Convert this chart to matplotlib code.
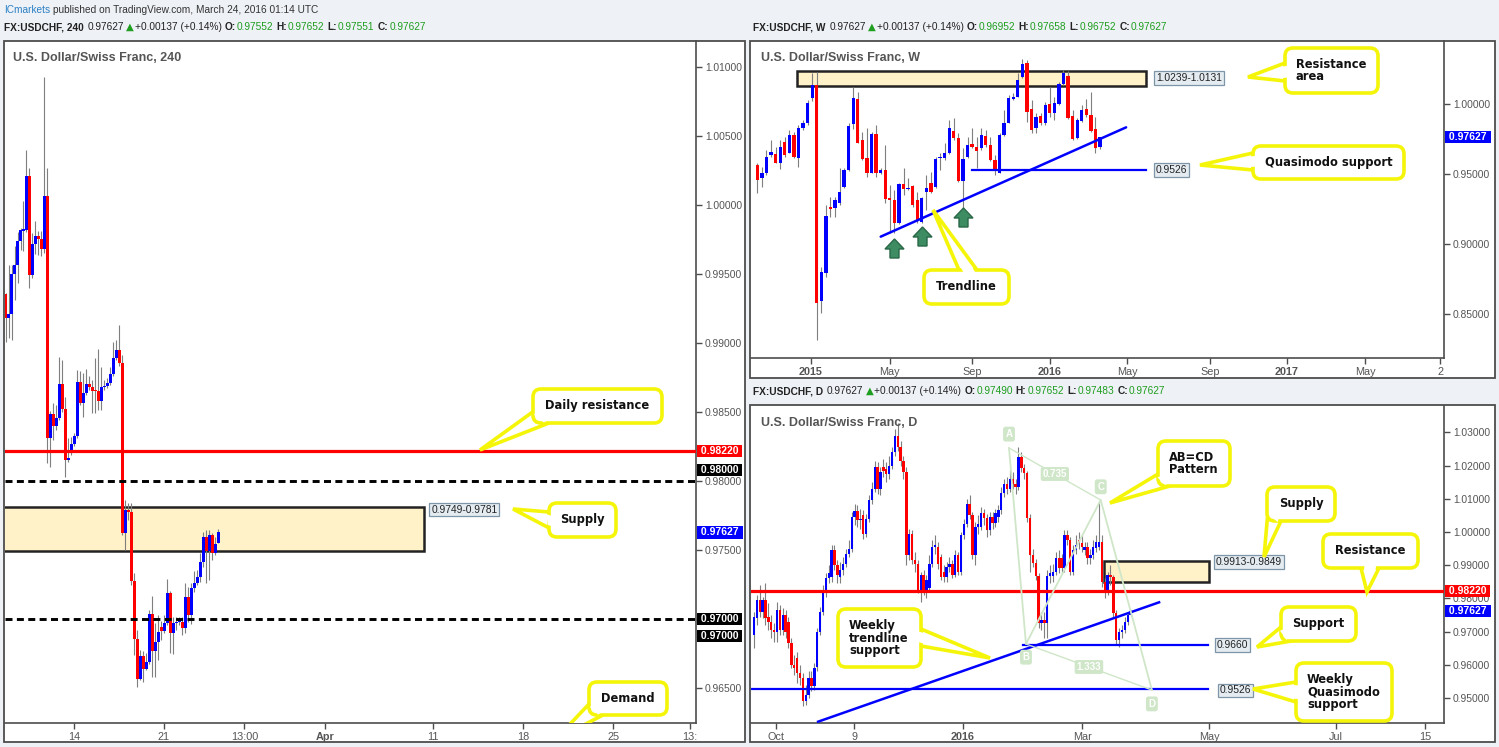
import matplotlib
matplotlib.use("Agg")
import matplotlib.pyplot as plt
import matplotlib.transforms as mtransforms
from matplotlib import font_manager
from matplotlib.patches import Rectangle, FancyBboxPatch, Polygon
import numpy as np

# ---------------- 4h candles ----------------
h4_open = [.99355, .99181, .99210, .99500, .99565, .99739, .99812, .99819, 1.00210, .99493,
           .99717, .99775, .99754, .99681, 1.00065, .98312, .98486, .98399, .98457, .98703,
           .98522, .98152, .98210, .98268, .98326, .98717, .98565, .98638, .98703, .98681,
           .98659, .98652, .98580, .98681, .98688, .98710, .98775, .98891, .98949, .98855,
           .97623, .97790, .97775, .97275, .96855, .96565, .96732, .96638, .96688, .97036,
           .96768, .96833, .96942, .96913, .96971, .97188, .96899, .96971, .96978, .96978,
           .96935, .97159, .97029, .97225, .97261, .97304, .97413, .97594, .97493, .97609,
           .97478, .97552]
h4_high = [.99362, .99565, .99565, .99703, .99804, .99833, 1.00029, 1.00399, 1.00268, .99797,
           .99884, .99812, .99812, 1.00928, 1.00268, .98507, .98565, .98551, .98899, .98877,
           .98609, .98312, .98319, .98348, .98804, .98797, .98783, .98812, .98761, .98732,
           .98891, .98957, .98826, .98732, .98746, .98826, .99007, .99022, .99130, .98913,
           .97862, .97841, .97841, .97333, .96920, .96775, .96768, .96754, .97065, .97167,
           .96971, .97029, .96986, .97029, .97290, .97203, .97014, .97014, .97014, .97014,
           .97261, .97232, .97261, .97348, .97355, .97478, .97630, .97645, .97645, .97623,
           .97594, .97652]
h4_low = [.99007, .99036, .99022, .99312, .99435, .99674, .99667, .99804, .99399, .99471,
          .99645, .99638, .99630, .99652, .98130, .98101, .98297, .98370, .98442, .98500,
          .98029, .98138, .98188, .98254, .98312, .98551, .98464, .98623, .98659, .98493,
          .98493, .98514, .98514, .98659, .98674, .98696, .98761, .98877, .98833, .97609,
          .97500, .97717, .97246, .96739, .96507, .96558, .96543, .96630, .96674, .96580,
          .96580, .96703, .96848, .96899, .96957, .96754, .96746, .96920, .96957, .96884,
          .96899, .96978, .96964, .97196, .97246, .97268, .97377, .97261, .97283, .97428,
          .97464, .97551]
h4_close = [.99181, .99210, .99500, .99565, .99739, .99819, .99826, 1.00210, .99493, .99717,
            .99775, .99754, .99681, 1.00065, .98312, .98486, .98399, .98457, .98703, .98522,
            .98152, .98167, .98268, .98326, .98717, .98565, .98638, .98703, .98681, .98652,
            .98652, .98580, .98681, .98688, .98710, .98775, .98891, .98949, .98855, .97623,
            .97790, .97775, .97275, .96855, .96565, .96732, .96638, .96688, .97036, .96768,
            .96833, .96906, .96913, .96971, .97188, .96899, .96971, .96978, .96993, .96935,
            .97159, .97029, .97225, .97261, .97304, .97413, .97594, .97493, .97609, .97478,
            .97543, .97627]
h4_tick_pos = [23, 52.7, 79.7, 106.7, 142.7, 172.7, 202.7, 228.3]
h4_tick_lab = ["14", "21", "13:00", "Apr", "11", "18", "25", "13:"]
h4_yticks = [1.010, 1.005, 1.000, 0.995, 0.990, 0.985, 0.980, 0.975, 0.965]
h4_res = 0.9822
h4_round = [0.980, 0.970]
h4_supply = (0.9749, 0.9781)
last_price = 0.97627

# ---------------- weekly candles ----------------
w_open = [.95643, .94690, .95048, .96357, .96429, .95810, .97310, .96524, .97786, .96167,
          .98262, .98619, 1.00405, 1.01357, .85952, .87905, .92667, .92595, .92952, .94048,
          .95286, .98571, 1.00333, .97429, .96119, .95095, .97857, .95048, .95286, .93286,
          .93143, .91476, .94286, .93929, .94143, .93143, .91595, .93738, .94333, .94095,
          .96119, .96119, .96476, .98095, .97548, .94524, .96238, .97119, .96952, .96833,
          .97738, .97048, .96000, .95095, .97786, .98667, 1.00381, 1.00524, 1.01905, 1.02952,
          .99619, .98262, .99143, .98619, 1.00000, .99333, 1.00000, 1.01405, 1.02000, .99143,
          .97548, .98810, .99619, .99190, .98190, .96952]
w_high = [.95762, .95524, .96714, .97429, .96952, .97429, .97667, .98143, .98024, .98500,
          .98857, 1.00286, 1.02190, 1.02310, .88381, .92786, .93381, .93381, .95405, .95405,
          .98619, 1.01238, 1.00881, .98024, .98262, .98024, .98500, .95405, .97071, .94214,
          .93857, .94333, .95405, .94690, .94214, .93738, .93381, .94929, .95167, .96238,
          .96476, .97190, .98857, .98976, .97905, .96833, .97667, .98262, .97667, .98262,
          .98143, .97667, .96357, .97952, .99571, 1.00643, 1.00762, 1.02190, 1.03190, 1.03143,
          1.00286, .99333, .99333, 1.00167, 1.01238, 1.00524, 1.01595, 1.02429, 1.02381, .99571,
          .98976, .99929, 1.00333, 1.00881, .99048, .97658]
w_low = [.93619, .94095, .94929, .96238, .95762, .95333, .96238, .96476, .96119, .95524,
         .98143, .98500, 1.00238, .83143, .85048, .87667, .91952, .91952, .92786, .93976,
         .95238, .98190, .97190, .96000, .94810, .95048, .94810, .95000, .92905, .90810,
         .90762, .91429, .93500, .93857, .92667, .91524, .91524, .92429, .93619, .93976,
         .95286, .96000, .96429, .97429, .94452, .92548, .96119, .96833, .95405, .96714,
         .96952, .95952, .94929, .95048, .97714, .98619, 1.00286, 1.00476, 1.01833, .98738,
         .97952, .97952, .98500, .98500, .99095, .98857, .99929, 1.01357, .98905, .97429,
         .97476, .98738, .99095, .98024, .96476, .96752]
w_close = [.94571, .95095, .96190, .96548, .95810, .96952, .96357, .97786, .96238, .98262,
           .98619, 1.00095, 1.01357, .85762, .88024, .92000, .92476, .93143, .93714, .95286,
           .98429, 1.00405, .97238, .96048, .95095, .97857, .95095, .95286, .93238, .93143,
           .91524, .94286, .93952, .93976, .92762, .91714, .93262, .93976, .93738, .96071,
           .96190, .96524, .98262, .97548, .94524, .96071, .97071, .96905, .96667, .97786,
           .97048, .96000, .95238, .97786, .98667, 1.00405, 1.00500, 1.01714, 1.02857, .99452,
           .98143, .99095, .98619, .99929, .99333, 1.00048, 1.01429, 1.02190, .98976, .97500,
           .98857, .99571, .99214, .98095, .96833, .97627]
w_tick_pos = [11.75, 29.0, 47.0, 64.0, 80.9, 99.0, 115.9, 133.0, 149.4]
w_tick_lab = ["2015", "May", "Sep", "2016", "May", "Sep", "2017", "May", "2"]
w_yticks = [0.85, 0.90, 0.95, 1.00]
w_res_zone = (1.0131, 1.0239)
w_qm = 0.9526
w_trend_x = [27.0, 80.7]
w_trend_p = [0.90524, 0.98333]

# ---------------- daily candles ----------------
d_open = [.9690, .9740, .9795, .9760, .9795, .9745, .9730, .9705, .9700, .9765,
          .9705, .9750, .9730, .9665, .9600, .9620, .9575, .9560, .9490, .9510,
          .9560, .9535, .9594, .9700, .9760, .9820, .9860, .9865, .9945, .9900,
          .9865, .9885, .9905, .9935, .9950, 1.0045, 1.0062, 1.0035, 1.0050, .9995,
          1.0040, 1.0095, 1.0130, 1.0195, 1.0130, 1.0195, 1.0190, 1.0175, 1.0200, 1.0240,
          1.0290, 1.0257, 1.0215, 1.0182, .9930, .9995, .9915, .9905, .9825, .9870,
          .9825, .9830, .9905, .9955, .9955, .9925, .9880, .9865, .9895, .9905,
          .9870, .9930, .9880, .9990, 1.0025, 1.0085, 1.0052, .9931, 1.0015, 1.0015,
          1.0056, 1.0041, 1.0006, 1.0046, 1.0026, 1.0046, 1.0066, 1.0116, 1.0146, 1.0131,
          1.0161, 1.0146, 1.0136, 1.0227, 1.0192, 1.0177, 1.0041, .9931, .9906, .9866,
          .9725, .9735, .9725, .9866, .9866, .9881, .9921, .9921, .9891, .9991,
          .9976, .9881, .9946, .9976, .9966, .9946, .9956, .9921, .9931, .9951,
          .9956, .9971, .9848, .9820, .9870, .9865, .9755, .9675, .9700, .9705,
          .9730, .97490]
d_high = [.9760, .9810, .9840, .9805, .9845, .9785, .9750, .9725, .9790, .9780,
          .9770, .9765, .9745, .9680, .9630, .9640, .9600, .9575, .9540, .9580,
          .9580, .9605, .9710, .9775, .9840, .9875, .9900, .9960, .9960, .9915,
          .9910, .9925, .9950, .9975, 1.0060, 1.0085, 1.0080, 1.0070, 1.0065, 1.0055,
          1.0110, 1.0150, 1.0215, 1.0210, 1.0195, 1.0220, 1.0210, 1.0230, 1.0255, 1.0310,
          1.0328, 1.0275, 1.0230, 1.0195, 1.0010, 1.0005, .9940, .9915, .9880, .9885,
          .9870, .9930, .9975, .9990, .9970, .9935, .9900, .9910, .9925, .9915,
          .9945, .9940, 1.0000, 1.0040, 1.0100, 1.0110, 1.0060, 1.0030, 1.0050, 1.0075,
          1.0070, 1.0055, 1.0060, 1.0060, 1.0070, 1.0080, 1.0135, 1.0160, 1.0165, 1.0187,
          1.0180, 1.0160, 1.0257, 1.0240, 1.0205, 1.0185, 1.0055, .9950, .9920, .9875,
          .9760, .9760, .9885, .9900, .9905, .9940, .9945, .9935, 1.0005, 1.0005,
          .9985, .9960, .9990, 1.0000, .9990, .9970, .9970, .9950, .9975, .9990,
          1.0094, .9990, .9860, .9880, .9900, .9870, .9765, .9710, .9720, .9745,
          .9760, .97652]
d_low = [.9650, .9720, .9745, .9740, .9720, .9705, .9680, .9670, .9670, .9690,
         .9690, .9680, .9650, .9590, .9570, .9545, .9540, .9476, .9478, .9500,
         .9520, .9525, .9580, .9690, .9750, .9805, .9845, .9850, .9885, .9845,
         .9845, .9870, .9895, .9925, .9940, 1.0020, 1.0015, 1.0010, .9980, .9985,
         1.0030, 1.0085, 1.0120, 1.0115, 1.0110, 1.0165, 1.0150, 1.0160, 1.0190, 1.0230,
         1.0245, 1.0200, 1.0160, .9900, .9915, .9905, .9880, .9815, .9790, .9810,
         .9800, .9820, .9895, .9935, .9890, .9855, .9850, .9850, .9880, .9860,
         .9865, .9870, .9870, .9980, 1.0015, 1.0040, .9920, .9900, .9995, 1.0005,
         1.0020, .9985, .9990, 1.0010, 1.0015, 1.0030, 1.0055, 1.0105, 1.0115, 1.0120,
         1.0130, 1.0115, 1.0125, 1.0180, 1.0160, 1.0030, .9880, .9895, .9855, .9710,
         .9705, .9680, .9680, .9845, .9850, .9870, .9875, .9875, .9880, .9960,
         .9870, .9870, .9935, .9950, .9940, .9930, .9905, .9905, .9920, .9940,
         .9945, .9835, .9800, .9810, .9840, .9740, .9660, .9655, .9680, .9695,
         .9720, .97483]
d_close = [.9745, .9795, .9760, .9795, .9740, .9730, .9705, .9700, .9765, .9705,
           .9750, .9700, .9665, .9600, .9590, .9575, .9560, .9490, .9510, .9560,
           .9535, .9590, .9700, .9760, .9820, .9860, .9875, .9945, .9900, .9870,
           .9885, .9905, .9935, .9950, 1.0045, 1.0062, 1.0035, 1.0040, .9995, 1.0040,
           1.0095, 1.0130, 1.0195, 1.0130, 1.0180, 1.0185, 1.0175, 1.0200, 1.0240, 1.0290,
           1.0257, 1.0215, 1.0182, .9930, .9995, .9915, .9905, .9825, .9870, .9825,
           .9855, .9905, .9955, .9960, .9905, .9865, .9865, .9895, .9905, .9870,
           .9930, .9880, .9990, 1.0025, 1.0085, 1.0052, .9931, 1.0015, 1.0025, 1.0056,
           1.0041, 1.0006, 1.0046, 1.0026, 1.0056, 1.0066, 1.0116, 1.0146, 1.0131, 1.0161,
           1.0146, 1.0136, 1.0227, 1.0192, 1.0177, 1.0041, .9931, .9906, .9866, .9725,
           .9735, .9725, .9866, .9876, .9881, .9921, .9891, .9891, .9991, .9976,
           .9881, .9946, .9961, .9966, .9956, .9956, .9921, .9931, .9956, .9971,
           .9971, .9848, .9820, .9870, .9865, .9755, .9675, .9700, .9705, .9730,
           .9749, .97627]
d_tick_pos = [7.65, 34.8, 72.7, 114.1, 158.3, 202.4, 233.4]
d_tick_lab = ["Oct", "9", "2016", "Mar", "May", "Jul", "15"]
d_yticks = [0.95, 0.96, 0.97, 0.98, 0.99, 1.00, 1.01, 1.02, 1.03]
d_res = 0.9822
d_supply = (0.9849, 0.9913)
d_support = 0.9660
d_qm = 0.9526
d_trend_x = [22.3, 140.9]
d_trend_p = [0.94287, 0.97882]
abcd_x = [88.7, 94.6, 120.6, 138.4]
abcd_p = [1.0253, 0.96627, 1.00964, 0.95241]
abcd_ratio = ["0.735", "1.333"]

for grp in [(h4_open, h4_high, h4_low, h4_close), (w_open, w_high, w_low, w_close),
            (d_open, d_high, d_low, d_close)]:
    assert len(set(len(g) for g in grp)) == 1, [len(g) for g in grp]

# ---------------- styling ----------------
BLUE, RED, WICK = "#0000ff", "#ff0000", "#7f7f7f"
FRAME, TXT = "#4d4d4d", "#555555"
YEL = "#f5f50a"
ZONE_FC, ZONE_EC = "#fff1c8", "#222222"
LBL_FC, LBL_EC = "#e4ecf2", "#7d95a6"
GREEN = "#1f9e1f"

names = {f.name for f in font_manager.fontManager.ttflist}
if "Liberation Sans Narrow" in names:
    NARROW = "Liberation Sans Narrow"
elif "DejaVu Sans Condensed" in names:
    NARROW = "DejaVu Sans Condensed"
else:
    NARROW = "Liberation Sans"
plt.rcParams["font.family"] = ["Liberation Sans", "DejaVu Sans"]

W, H = 1499, 747
fig = plt.figure(figsize=(W / 100, H / 100), dpi=100)
fig.patch.set_facecolor("#eef1f6")
PX = mtransforms.Affine2D().scale(1 / W, -1 / H).translate(0, 1) + fig.transFigure

# panel frames
for x0, y0, x1, y1 in [(4, 41, 745, 742), (750, 41, 1495, 378), (750, 405, 1495, 742)]:
    fig.add_artist(Rectangle((x0, y0), x1 - x0, y1 - y0, transform=PX, fc="white", ec="none", zorder=-2))
    fig.add_artist(Rectangle((x0, y0), x1 - x0, y1 - y0, transform=PX, fc="none", ec=FRAME, lw=1.3, zorder=10))


def make_ax(x0, y0, x1, y1, xlim, ylim, xt, xl, yt, bold=()):
    ax = fig.add_axes([x0 / W, 1 - y1 / H, (x1 - x0) / W, (y1 - y0) / H])
    ax.set_facecolor("white")
    ax.set_xlim(*xlim)
    ax.set_ylim(*ylim)
    for s in ("top", "left"):
        ax.spines[s].set_visible(False)
    for s in ("right", "bottom"):
        ax.spines[s].set_color(FRAME)
        ax.spines[s].set_linewidth(1.2)
    ax.yaxis.tick_right()
    ax.tick_params(axis="both", direction="out", length=4, width=1, color=FRAME,
                   labelcolor=TXT, labelsize=7.4, pad=2.5)
    ax.set_yticks(yt)
    ax.set_yticklabels([f"{v:.5f}" for v in yt])
    ax.set_xticks(xt)
    ax.set_xticklabels(xl)
    for lab in ax.get_xticklabels():
        lab.set_fontsize(7.8)
        if lab.get_text() in bold:
            lab.set_fontweight("bold")
    return ax


def candles(ax, o, h, l, c, width, minh):
    o, h, l, c = map(np.asarray, (o, h, l, c))
    x = np.arange(len(o))
    up = c >= o
    ax.vlines(x, l, h, color=WICK, lw=0.8, zorder=3)
    bot = np.minimum(o, c)
    ht = np.maximum(np.abs(c - o), minh)
    ax.bar(x, ht, width, bot, color=np.where(up, BLUE, RED), linewidth=0, zorder=4)


def zone(ax, x0, x1, lo, hi):
    ax.add_patch(Rectangle((x0, lo), x1 - x0, hi - lo, fc=ZONE_FC, ec=ZONE_EC, lw=1.8, zorder=2))


def tag(ax, x, p, s):
    ax.text(x, p, s, fontsize=7.4, color="#222222", va="center", ha="left", zorder=8,
            bbox=dict(boxstyle="square,pad=0.18", fc=LBL_FC, ec=LBL_EC, lw=0.9))


def badge(ax, p, s, fc):
    tr = mtransforms.offset_copy(mtransforms.blended_transform_factory(ax.transAxes, ax.transData),
                                 fig=fig, x=2, units="dots")
    ax.text(1.0, p, f" {s} ", transform=tr, fontsize=7.5, fontweight="bold", color="white",
            va="center", ha="left", zorder=30, clip_on=False,
            bbox=dict(boxstyle="square,pad=0.1", fc=fc, ec="none"))


def callout(ax, box, tip, base, text, tx, ty, ha="center", size=8.3):
    x0, y0, x1, y1 = box
    ax.add_patch(Polygon([base[0], tip, base[1]], closed=True, transform=PX, fc="white",
                         ec=YEL, lw=2.6, zorder=20))
    ax.add_patch(FancyBboxPatch((x0, y0), x1 - x0, y1 - y0, transform=PX,
                                boxstyle="round,pad=0,rounding_size=8", fc="white", ec=YEL,
                                lw=2.6, zorder=21))
    b1, b2, t = np.array(base[0], float), np.array(base[1], float), np.array(tip, float)
    m = (b1 + b2) / 2
    u = (m - t) / np.linalg.norm(m - t)
    e = (b2 - b1) / np.linalg.norm(b2 - b1)
    c1, c2 = b1 + e * 3.2, b2 - e * 3.2
    ax.add_patch(Polygon([c1 - u * 3, c1 + u * 3, c2 + u * 3, c2 - u * 3], closed=True,
                         transform=PX, fc="white", ec="none", zorder=22))
    ax.text(tx, ty, text, transform=PX, ha=ha, va="center", fontsize=size, fontweight="bold",
            family="DejaVu Sans", color="#111111", zorder=23, linespacing=0.92)


def up_arrow(ax, cx, top):
    pts = [(cx, top), (cx + 9.5, top + 10), (cx + 4.5, top + 10), (cx + 4.5, top + 19),
           (cx - 4.5, top + 19), (cx - 4.5, top + 10), (cx - 9.5, top + 10)]
    ax.add_patch(Polygon(pts, closed=True, transform=PX, fc="#3d8c62", ec="#2a6848", lw=1, zorder=9))


# ---------------- left: 240 ----------------
ax1 = make_ax(5, 41, 696, 723, (-0.17, 230.3), (0.962464, 1.011884),
              h4_tick_pos, h4_tick_lab, h4_yticks, bold=("Apr",))
zone(ax1, -2, 139.7, *h4_supply)
candles(ax1, h4_open, h4_high, h4_low, h4_close, 0.92, 0.00008)
ax1.axhline(h4_res, color=RED, lw=2.3, zorder=6)
for lv in h4_round:
    ax1.axhline(lv, color="black", lw=2.1, ls=(0, (2.4, 1.5)), zorder=6)
tag(ax1, 142.0, 0.97793, "0.9749-0.9781")
badge(ax1, h4_res, "0.98220", RED)
badge(ax1, 0.9808, "0.98000", "black")
badge(ax1, last_price, "0.97627", BLUE)
badge(ax1, 0.9700, "0.97000", "black")
badge(ax1, 0.96877, "0.97000", "black")
callout(ax1, (533, 389, 662, 423), (480, 450), [(534, 411), (549, 423)], "Daily resistance", 597.5, 406)
callout(ax1, (549, 503, 616, 537), (513, 509), [(549, 512), (551, 529)], "Supply", 582.5, 520)
callout(ax1, (589, 682, 667, 715), (555, 740), [(590, 703), (603, 715)], "Demand", 628, 698.5)

# ---------------- top right: weekly ----------------
ax2 = make_ax(751, 41, 1444, 358, (-1.38, 150.26), (0.81857, 1.045),
              w_tick_pos, w_tick_lab, w_yticks, bold=("2015", "2016", "2017"))
zone(ax2, 8.7, 85.0, *w_res_zone)
candles(ax2, w_open, w_high, w_low, w_close, 0.72, 0.0007)
ax2.plot([47.0, 85.0], [w_qm, w_qm], color=BLUE, lw=1.6, zorder=6)
ax2.plot(w_trend_x, w_trend_p, color=BLUE, lw=1.8, zorder=6, solid_capstyle="round")
tag(ax2, 87.2, 1.0186, "1.0239-1.0131")
tag(ax2, 87.2, 0.9531, "0.9526")
badge(ax2, last_price, "0.97627", BLUE)
for cx, top in [(894.5, 239), (922.5, 227), (963.5, 208)]:
    up_arrow(ax2, cx, top)
callout(ax2, (1285, 48, 1378, 93), (1248, 77), [(1285, 63), (1285, 81)], "Resistance\narea", 1296, 70.5, ha="left")
callout(ax2, (1253, 146, 1404, 179), (1200, 165), [(1253, 153), (1253, 170)], "Quasimodo support", 1328.5, 162.5)
callout(ax2, (924, 270, 1009, 304), (933, 210), [(959, 270), (977, 270)], "Trendline", 966.5, 287)

# ---------------- bottom right: daily ----------------
ax3 = make_ax(751, 406, 1444, 723, (-1.04, 240.0), (0.94247, 1.03795),
              d_tick_pos, d_tick_lab, d_yticks, bold=("2016",))
zone(ax3, 121.7, 158.3, *d_supply)
candles(ax3, d_open, d_high, d_low, d_close, 0.85, 0.0003)
ax3.axhline(d_res, color=RED, lw=2.3, zorder=6)
ax3.plot([93.6, 157.9], [d_support, d_support], color=BLUE, lw=1.6, zorder=6)
ax3.plot([-2, 157.9], [d_qm, d_qm], color=BLUE, lw=1.6, zorder=6)
ax3.plot(d_trend_x, d_trend_p, color=BLUE, lw=1.8, zorder=6)
PAT = "#cfe6c8"
ax3.plot(abcd_x, abcd_p, color=PAT, lw=1.3, zorder=7)
ax3.plot([abcd_x[0], abcd_x[2]], [abcd_p[0], abcd_p[2]], color=PAT, lw=1.0, zorder=7)
ax3.plot([abcd_x[1], abcd_x[3]], [abcd_p[1], abcd_p[3]], color=PAT, lw=1.0, zorder=7)
for name, x, p, dy in zip("ABCD", abcd_x, abcd_p, [10, -9.5, 9.5, -10]):
    ax3.annotate(name, (x, p), xytext=(0, dy), textcoords="offset points", ha="center",
                 va="center", fontsize=7, color="white", fontweight="bold", zorder=8,
                 bbox=dict(boxstyle="round,pad=0.25", fc=PAT, ec="none"))
for s, i, j in [(abcd_ratio[0], 0, 2), (abcd_ratio[1], 1, 3)]:
    ax3.text((abcd_x[i] + abcd_x[j]) / 2, (abcd_p[i] + abcd_p[j]) / 2, s, ha="center", va="center",
             fontsize=7, color="white", fontweight="bold", zorder=8,
             bbox=dict(boxstyle="round,pad=0.2", fc=PAT, ec="none"))
tag(ax3, 160.7, 0.99096, "0.9913-0.9849")
tag(ax3, 161.0, 0.96596, "0.9660")
tag(ax3, 162.1, 0.95226, "0.9526")
badge(ax3, d_res, "0.98220", RED)
badge(ax3, last_price, "0.97627", BLUE)
callout(ax3, (1158, 441, 1230, 486), (1110, 503), [(1158, 474), (1170, 486)], "AB=CD\nPattern", 1169, 463.5, ha="left")
callout(ax3, (1267, 487, 1335, 521), (1264, 557), [(1268, 511), (1281, 521)], "Supply", 1301, 504)
callout(ax3, (1323, 534, 1418, 568), (1367, 592), [(1361, 568), (1379, 568)], "Resistance", 1370.5, 551)
callout(ax3, (1281, 607, 1356, 641), (1257, 647), [(1281, 627), (1291, 641)], "Support", 1318.5, 624)
callout(ax3, (1296, 663, 1392, 721), (1253, 689), [(1296, 682), (1296, 702)], "Weekly\nQuasimodo\nsupport", 1307, 692, ha="left")
callout(ax3, (838, 609, 921, 667), (990, 658), [(921, 629), (921, 646)], "Weekly\ntrendline\nsupport", 849, 638, ha="left")

# ---------------- titles and headers ----------------
tsize = 10 if NARROW != "Liberation Sans" else 9
for x, y, s in [(13, 58, "U.S. Dollar/Swiss Franc, 240"), (761, 58, "U.S. Dollar/Swiss Franc, W"),
                (761, 423, "U.S. Dollar/Swiss Franc, D")]:
    fig.text(x, y, s, transform=PX, fontsize=tsize, fontweight="bold", color=TXT,
             family=NARROW, va="center", ha="left", zorder=12)

renderer = fig.canvas.get_renderer()
hsize = 8.6 if NARROW != "Liberation Sans" else 7.3


def run(x, y, parts):
    for s, col, wt, gap in parts:
        fam = ["DejaVu Sans"] if s == "▲" else [NARROW, "DejaVu Sans"]
        t = fig.text(x, y, s, transform=PX, color=col, fontweight=wt, fontsize=hsize,
                     family=fam, va="center", ha="left", zorder=12)
        x += t.get_window_extent(renderer).width + gap


def header(x, y, tf, o, h, l, c):
    run(x, y, [(f"FX:USDCHF, {tf}", "#222222", "bold", 4), ("0.97627", "#222222", "normal", 2),
               ("▲", GREEN, "normal", 1), ("+0.00137 (+0.14%)", "#222222", "normal", 3),
               ("O:", "#222222", "bold", 1), (o, GREEN, "normal", 3),
               ("H:", "#222222", "bold", 1), (h, GREEN, "normal", 3),
               ("L:", "#222222", "bold", 1), (l, GREEN, "normal", 3),
               ("C:", "#222222", "bold", 1), (c, GREEN, "normal", 0)])


run(4, 10, [("ICmarkets", "#2b80c5", "normal", 3),
            ("published on TradingView.com, March 24, 2016 01:14 UTC", "#333333", "normal", 0)])
header(4, 27, "240", "0.97552", "0.97652", "0.97551", "0.97627")
header(753, 27, "W", "0.96952", "0.97658", "0.96752", "0.97627")
header(753, 391, "D", "0.97490", "0.97652", "0.97483", "0.97627")

fig.savefig("out.png", dpi=100, facecolor=fig.get_facecolor())
